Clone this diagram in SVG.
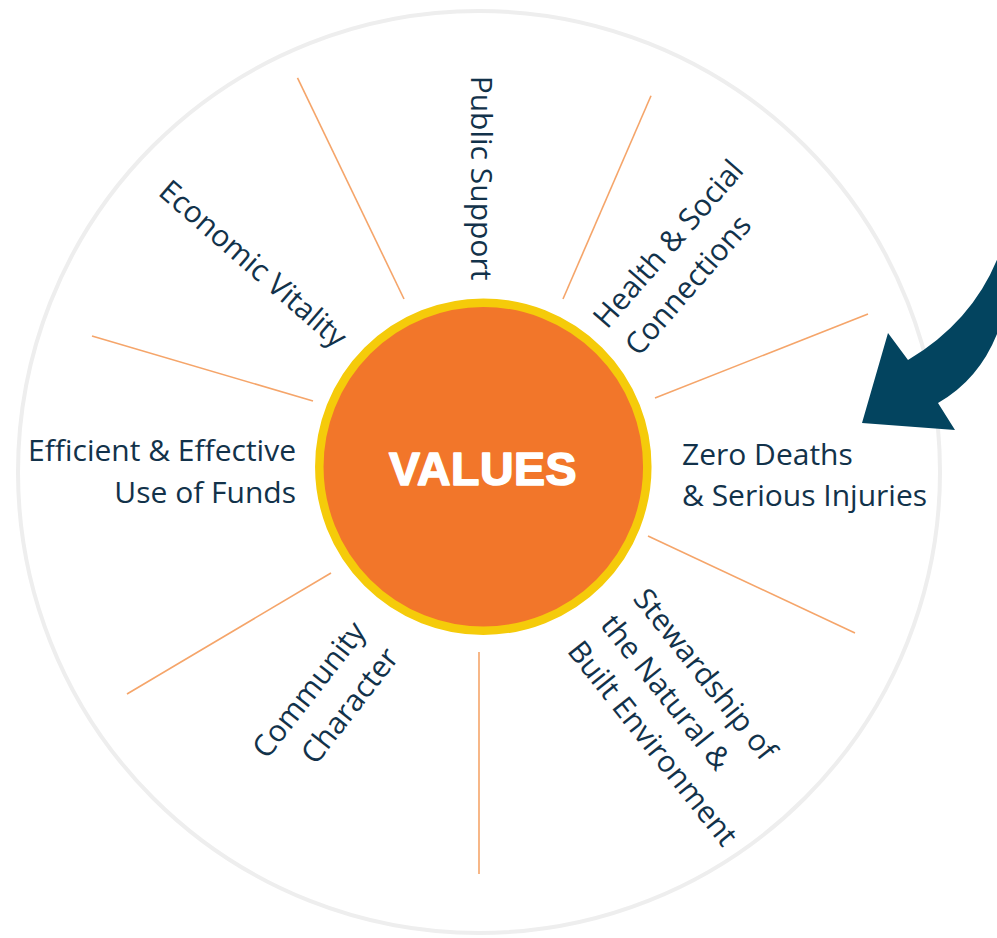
<svg xmlns="http://www.w3.org/2000/svg" width="997" height="938" viewBox="0 0 997 938">
<style>
.lbl{font-family:"Open Sans","Liberation Sans",sans-serif;font-size:30px;fill:#12324a}
.spoke{stroke:#F5A56A;stroke-width:1.6;fill:none}
</style>
<rect width="997" height="938" fill="#ffffff"/>
<circle id="ring" cx="479" cy="472" r="461" fill="none" stroke="#EEEEEE" stroke-width="4"/>
<g id="connectors">
<line class="spoke" x1="297.5" y1="77.8" x2="404" y2="299"/>
<line class="spoke" x1="651" y1="95.7" x2="563" y2="299"/>
<line class="spoke" x1="868" y1="314" x2="655" y2="398"/>
<line class="spoke" x1="648" y1="536" x2="855" y2="633"/>
<line class="spoke" x1="479" y1="652" x2="479" y2="874"/>
<line class="spoke" x1="331" y1="573" x2="127" y2="694"/>
<line class="spoke" x1="92" y1="336" x2="313" y2="401"/>
</g>
<g id="values">
<circle cx="483.3" cy="466.7" r="164" fill="#F2762A" stroke="#F5CB0A" stroke-width="8.5"/>
<text x="483" y="485" text-anchor="middle" font-family="'Liberation Sans',Arial,sans-serif" font-weight="900" font-size="46.5" letter-spacing="0.5" fill="#ffffff" stroke="#ffffff" stroke-width="1.6" stroke-linejoin="round">VALUES</text>
</g>
<g id="public-support">
<text class="lbl" transform="translate(471,178) rotate(90)" text-anchor="middle">Public Support</text>
</g>
<g id="economic-vitality">
<text class="lbl" transform="translate(157,194) rotate(41)">Economic Vitality</text>
</g>
<g id="health-social" transform="translate(607,330) rotate(-49)">
<text class="lbl" x="0" y="0">Health &amp; Social</text>
<text class="lbl" x="0" y="42">Connections</text>
</g>
<g id="zero-deaths">
<text class="lbl" x="682" y="465">Zero Deaths</text>
<text class="lbl" x="682" y="506">&amp; Serious Injuries</text>
</g>
<g id="efficient">
<text class="lbl" x="296" y="461" text-anchor="end">Efficient &amp; Effective</text>
<text class="lbl" x="296" y="503" text-anchor="end">Use of Funds</text>
</g>
<g id="community" transform="translate(367,632) rotate(-52)">
<text class="lbl" x="0" y="0" text-anchor="end">Community</text>
<text class="lbl" x="0" y="42" text-anchor="end">Character</text>
</g>
<g id="stewardship" transform="translate(632,599) rotate(51.5)">
<text class="lbl" x="0" y="0">Stewardship of</text>
<text class="lbl" x="0" y="42">the Natural &amp;</text>
<text class="lbl" x="0" y="84">Built Environment</text>
</g>
<g id="arrow">
<path d="M1000,252 Q975,320 908,360 L888,333 L862,423 L955,430 L938,403 Q982,378 1000,326 Z" fill="#03445F"/>
</g>
</svg>
